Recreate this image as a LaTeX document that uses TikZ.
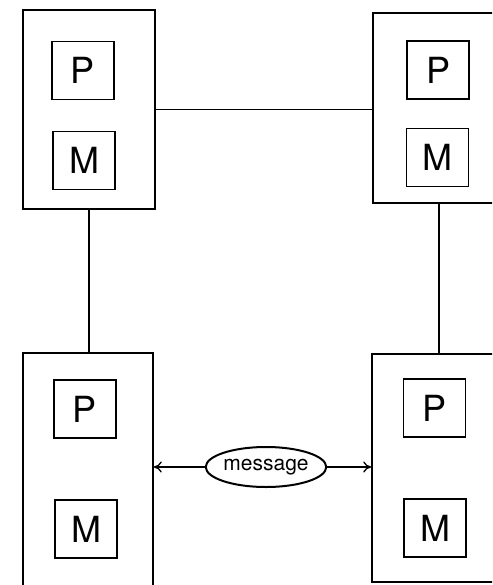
\documentclass[tikz,border=0pt]{standalone}
\usepackage{fontspec}
\setmainfont{TeX Gyre Heros}
\usetikzlibrary{arrows.meta,shapes.geometric}
\begin{document}
\begin{tikzpicture}[x=1pt,y=-1pt,line width=1.6pt,
  unit/.style={draw,rectangle,inner sep=0pt,minimum width=132pt},
  part/.style={draw,rectangle,inner sep=0pt,minimum width=62pt,minimum height=58pt,font=\fontsize{36}{36}\selectfont},
  link/.style={line width=1.6pt},
  msgarrow/.style={-{To[length=8pt,width=11pt]},line width=1.3pt}]
\useasboundingbox (0,0) rectangle (492,585);
\clip (0,0) rectangle (492,585);
% processor units
\node[unit,minimum height=199pt] (tl) at (89,109.5) {};
\node[unit,minimum height=190pt] (tr) at (439,108) {};
\node[unit,minimum width=130pt,minimum height=236pt] (bl) at (88,471) {};
\node[unit,minimum height=228pt] (br) at (438,468) {};
% P and M parts
\node[part] (tlP) at (83,70.5) {P};
\node[part] (tlM) at (84,160.5) {M};
\node[part] (trP) at (438,70) {P};
\node[part] (trM) at (437.5,157.5) {M};
\node[part] (blP) at (85,409) {P};
\node[part] (blM) at (86,529) {M};
\node[part] (brP) at (434.5,408) {P};
\node[part] (brM) at (435,528) {M};
% links
\draw[link] (tl.east) -- (tl.east -| tr.west);
\draw[link] (tl.south) -- (tl.south |- bl.north);
\draw[link] (tr.south) -- (tr.south |- br.north);
% message
\node[draw,ellipse,line width=2pt,inner sep=0pt,minimum width=108pt,minimum height=40pt,font=\fontsize{21}{21}\selectfont] (msg) at (266,467) {message};
\draw[msgarrow] (msg.west) -- (msg.west -| bl.east);
\draw[msgarrow] (msg.east) -- (msg.east -| br.west);
\end{tikzpicture}
\end{document}
